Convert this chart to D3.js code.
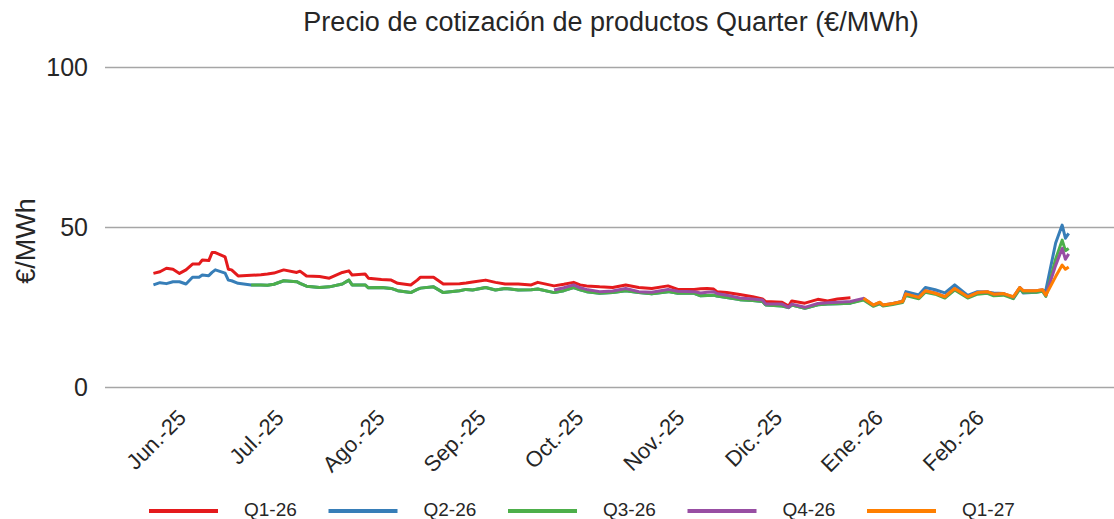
<!DOCTYPE html>
<html>
<head>
<meta charset="utf-8">
<script src="https://cdn.jsdelivr.net/npm/d3@7"></script>
<style>
  body { margin: 0; background: #fff; }
  text { font-family: "Liberation Sans", Arial, sans-serif; fill: #262626; }
</style>
</head>
<body>
<div id="chart"></div>
<script>
// month ticks on the x axis
var monthTicks = ["2025-06-01", "2025-07-01", "2025-08-01", "2025-09-01", "2025-10-01",
                  "2025-11-01", "2025-12-01", "2026-01-01", "2026-02-01"];
var monthLabels = ["Jun.-25", "Jul.-25", "Ago.-25", "Sep.-25", "Oct.-25",
                   "Nov.-25", "Dic.-25", "Ene.-26", "Feb.-26"];
var yTicks = [0, 50, 100];

var seriesNames = ["Q1-26", "Q2-26", "Q3-26", "Q4-26", "Q1-27"];
var seriesColors = ["#e41a1c", "#377eb8", "#4daf4a", "#984ea3", "#ff7f00"];

// sample dates (shared by all products)
var dates = [
  "2025-05-22","2025-05-24","2025-05-26","2025-05-28","2025-05-30","2025-06-01","2025-06-03","2025-06-05",
  "2025-06-06","2025-06-08","2025-06-09","2025-06-10","2025-06-13","2025-06-14","2025-06-15","2025-06-17",
  "2025-06-21","2025-06-24","2025-06-26","2025-06-28","2025-07-01","2025-07-05","2025-07-06","2025-07-08",
  "2025-07-12","2025-07-15","2025-07-19","2025-07-21","2025-07-22","2025-07-26","2025-07-27","2025-07-31",
  "2025-08-03","2025-08-05","2025-08-09","2025-08-11","2025-08-12","2025-08-16","2025-08-19","2025-08-24",
  "2025-08-26","2025-08-28","2025-09-01","2025-09-04","2025-09-07","2025-09-11","2025-09-15","2025-09-17",
  "2025-09-22","2025-09-25","2025-09-28","2025-09-30","2025-10-02","2025-10-06","2025-10-10","2025-10-14",
  "2025-10-18","2025-10-22","2025-10-27","2025-10-30","2025-11-04","2025-11-06","2025-11-08","2025-11-10",
  "2025-11-11","2025-11-14","2025-11-18","2025-11-22","2025-11-25","2025-11-26","2025-12-01","2025-12-03",
  "2025-12-04","2025-12-08","2025-12-12","2025-12-15","2025-12-18","2025-12-22","2025-12-26","2025-12-29",
  "2025-12-31","2026-01-01","2026-01-04","2026-01-07","2026-01-08","2026-01-12","2026-01-14","2026-01-17",
  "2026-01-20","2026-01-23","2026-01-27","2026-01-30","2026-02-02","2026-02-04","2026-02-07","2026-02-10",
  "2026-02-12","2026-02-13","2026-02-17","2026-02-19","2026-02-20","2026-02-23","2026-02-25","2026-02-26",
  "2026-02-27"
];

var q126 = [
  35.5,36.0,37.1,36.8,35.5,36.6,38.4,38.4, 39.7,39.5,42.0,42.0,40.7,36.8,36.6,34.7,
  34.9,35.1,35.3,35.6,36.6,35.8,36.2,34.7, 34.5,34.0,35.8,36.3,35.0,35.3,34.0,33.6,
  33.4,32.4,31.9,33.4,34.3,34.3,32.2,32.3, 32.5,32.8,33.4,32.7,32.2,32.2,31.9,32.7,
  31.6,32.1,32.7,31.9,31.6,31.3,31.1,31.9, 31.1,30.8,31.6,30.5,30.5,30.7,30.8,30.6,
  29.8,29.5,28.9,28.2,27.5,26.7,26.5,25.3, 26.9,26.2,27.4,26.9,27.5,27.9,null,null,
  null,null,null,null,null,null,null,null, null,null,null,null,null,null,null,null,
  null,null,null,null,null,null,null,null, null
];

var q226 = [
  31.9,32.6,32.3,32.9,32.9,32.2,34.3,34.3, 35.0,34.8,35.8,36.6,35.6,33.4,33.2,32.4,
  31.9,31.9,31.8,32.1,33.2,32.9,32.4,31.5, 31.1,31.3,32.2,33.4,31.9,31.9,31.0,31.1,
  30.8,30.1,29.5,30.5,30.9,31.3,29.5,30.1, 30.5,30.3,31.1,30.3,30.8,30.3,30.4,30.6,
  29.5,30.1,31.1,30.4,29.8,29.3,29.5,30.1, 29.5,29.1,29.8,29.3,29.3,28.5,28.6,28.7,
  28.4,28.0,27.3,27.0,26.7,25.6,25.3,24.8, 25.6,24.6,25.7,25.9,26.0,26.2,27.4,25.4,
  26.2,25.5,26.0,26.8,29.8,28.8,31.1,30.4, 29.4,31.9,28.6,29.8,29.6,29.4,29.2,27.7,
  31.1,29.4,29.6,30.0,30.3,45.0,50.6,46.5, 48.0
];

var q326 = [
  null,null,null,null,null,null,null,null, null,null,null,null,null,null,null,null,
  31.9,31.9,31.8,32.1,33.2,32.9,32.4,31.5, 31.1,31.3,32.2,33.4,31.9,31.9,31.0,31.1,
  30.8,30.1,29.5,30.5,30.9,31.3,29.5,30.1, 30.5,30.3,31.1,30.3,30.8,30.3,30.4,30.6,
  29.5,30.1,31.1,30.4,29.8,29.3,29.5,30.1, 29.5,29.1,29.8,29.3,29.3,28.5,28.6,28.7,
  28.4,28.0,27.3,27.0,26.7,25.6,25.3,24.8, 25.6,24.6,25.7,25.9,26.0,26.2,27.2,25.2,
  26.0,25.3,25.8,26.4,28.6,27.6,29.6,29.0, 27.8,30.3,27.8,29.0,29.3,28.5,28.7,27.6,
  30.6,29.6,29.6,29.9,28.3,40.0,45.9,42.6, 43.3
];

var q426 = [
  null,null,null,null,null,null,null,null, null,null,null,null,null,null,null,null,
  null,null,null,null,null,null,null,null, null,null,null,null,null,null,null,null,
  null,null,null,null,null,null,null,null, null,null,null,null,null,null,null,null,
  30.3,31.0,31.9,31.0,30.5,29.8,30.0,30.8, 29.8,29.6,30.5,29.9,29.8,29.4,29.6,29.8,
  29.2,28.7,27.8,27.5,27.2,25.9,25.9,24.9, 25.9,24.9,26.1,26.3,26.5,26.7,27.7,25.6,
  26.4,25.6,26.1,26.7,29.1,28.0,30.1,29.4, 28.2,30.8,28.2,29.5,29.8,29.0,29.2,28.1,
  31.1,30.1,30.1,30.4,28.7,38.0,43.3,39.9, 41.6
];

var q127 = [
  null,null,null,null,null,null,null,null, null,null,null,null,null,null,null,null,
  null,null,null,null,null,null,null,null, null,null,null,null,null,null,null,null,
  null,null,null,null,null,null,null,null, null,null,null,null,null,null,null,null,
  null,null,null,null,null,null,null,null, null,null,null,null,null,null,null,null,
  null,null,null,null,null,null,null,null, null,null,null,null,null,null,27.7,25.6,
  26.5,25.6,26.1,26.7,29.1,28.0,30.1,29.3, 28.2,30.8,28.2,29.5,29.8,29.0,29.2,28.2,
  31.1,30.1,30.1,30.4,28.7,34.5,38.1,36.8, 37.5
];

var seriesValues = [q126, q226, q326, q426, q127];

var width = 1114, height = 519;
var parse = d3.timeParse("%Y-%m-%d");

var svg = d3.select("#chart").append("svg")
    .attr("width", width)
    .attr("height", height);

var x = d3.scaleTime()
    .domain([parse("2025-06-01"), parse("2026-02-01")])
    .range([186, 984]);

var y = d3.scaleLinear()
    .domain([0, 100])
    .range([387, 67]);

// title
svg.append("text")
    .attr("x", 611)
    .attr("y", 31)
    .attr("text-anchor", "middle")
    .style("font-size", "27px")
    .attr("fill", "#333")
    .text("Precio de cotización de productos Quarter (€/MWh)");

// horizontal grid + y labels
var yAxis = d3.axisLeft(y)
    .tickValues(yTicks)
    .tickSize(-(width - 105))
    .tickPadding(17)
    .tickFormat(d3.format("d"));

var gY = svg.append("g")
    .attr("transform", "translate(105,0)")
    .call(yAxis);
gY.select(".domain").remove();
gY.selectAll(".tick line").attr("stroke", "#a6a6a6").attr("stroke-width", 1.5);
gY.selectAll(".tick text")
    .style("font-size", "25px")
    .style("font-family", "'Liberation Sans', Arial, sans-serif")
    .attr("fill", "#262626");

svg.append("text")
    .attr("transform", "translate(35,241) rotate(-90)")
    .attr("text-anchor", "middle")
    .style("font-size", "27px")
    .text("€/MWh");

// x labels (rotated)
var xAxis = d3.axisBottom(x)
    .tickValues(monthTicks.map(parse))
    .tickSize(0)
    .tickFormat(function(d, i) { return monthLabels[i]; });

var gX = svg.append("g")
    .attr("transform", "translate(0,387)")
    .call(xAxis);
gX.select(".domain").remove();
gX.selectAll(".tick text")
    .style("font-size", "22px")
    .style("font-family", "'Liberation Sans', Arial, sans-serif")
    .attr("fill", "#262626")
    .attr("text-anchor", "end")
    .attr("dy", null)
    .attr("y", 0)
    .attr("transform", "translate(1,32) rotate(-45)");

// lines
var line = d3.line()
    .defined(function(d) { return d.v != null; })
    .x(function(d) { return x(d.date); })
    .y(function(d) { return y(d.v); });

seriesValues.forEach(function(vals, k) {
    var pts = dates.map(function(s, i) { return {date: parse(s), v: vals[i]}; });
    svg.append("path")
        .datum(pts)
        .attr("fill", "none")
        .attr("stroke", seriesColors[k])
        .attr("stroke-width", 3)
        .attr("stroke-linejoin", "round")
        .attr("d", line);
});

// legend
var legend = svg.append("g").attr("class", "legend");
seriesNames.forEach(function(name, k) {
    var lx = 149 + k * 179.5;
    legend.append("line")
        .attr("x1", lx).attr("x2", lx + 69)
        .attr("y1", 511).attr("y2", 511)
        .attr("stroke", seriesColors[k])
        .attr("stroke-width", 4);
    legend.append("text")
        .attr("x", lx + 95)
        .attr("y", 516)
        .style("font-size", "19px")
        .text(name);
});
</script>
</body>
</html>
